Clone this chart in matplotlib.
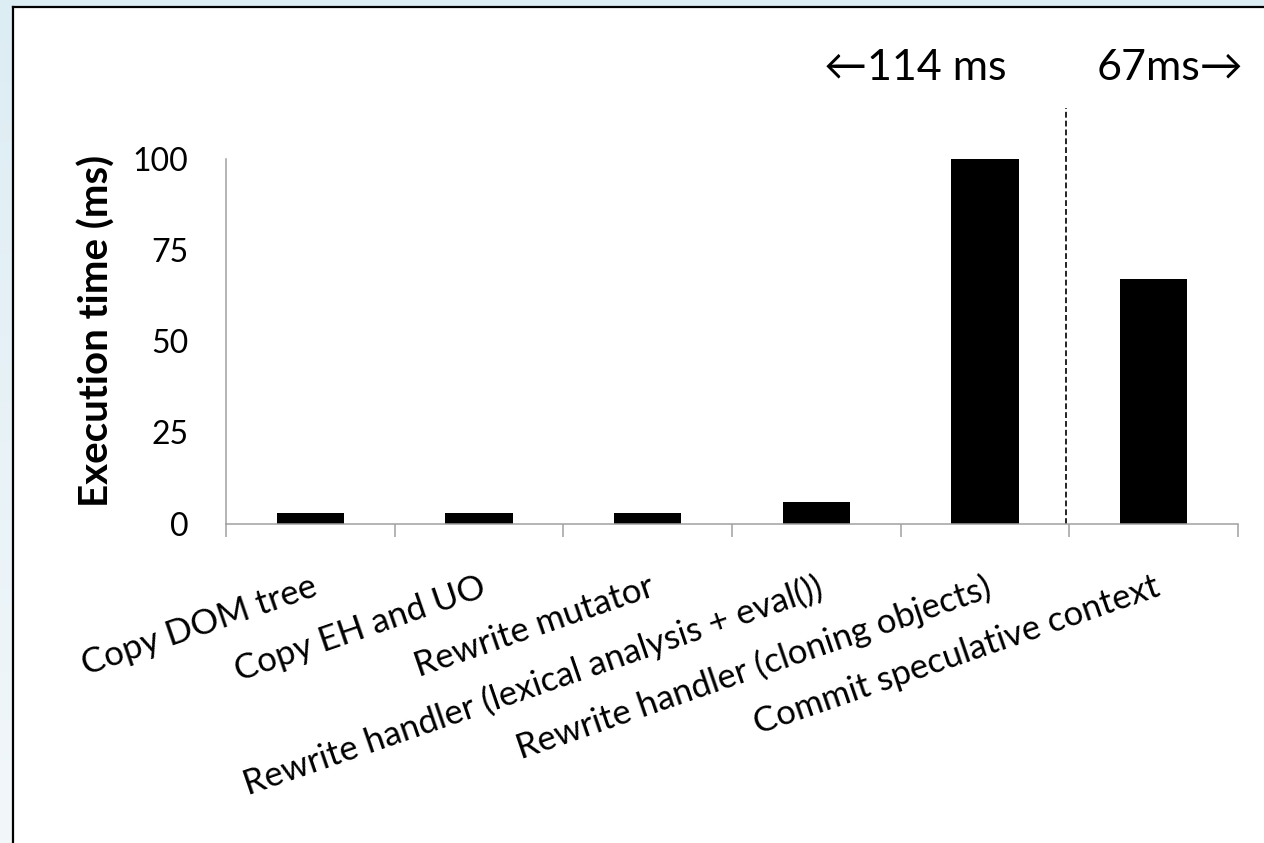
import numpy as np
import matplotlib
matplotlib.use("Agg")
import matplotlib.pyplot as plt
from matplotlib.colors import LinearSegmentedColormap
from matplotlib.patches import Rectangle
from matplotlib.lines import Line2D

# Data
categories = [
    "Copy DOM tree",
    "Copy EH and UO",
    "Rewrite mutator",
    "Rewrite handler (lexical analysis + eval())",
    "Rewrite handler (cloning objects)",
    "Commit speculative context",
]
exec_ms = [2.8, 2.8, 2.8, 6, 114, 67]
y_ticks = [0, 25, 50, 75, 100]
left_note = "\u2190114 ms"
right_note = "67ms\u2192"

W, H = 1264, 843
DPI = 100
FONT = ["Lato", "DejaVu Sans"]
plt.rcParams["font.family"] = FONT

fig = plt.figure(figsize=(W / DPI, H / DPI), dpi=DPI)

# Page background: pale blue gradient with a white framed panel
bg = fig.add_axes([0, 0, 1, 1], zorder=-10)
bg.set_axis_off()
grad = np.linspace(0, 1, 256).reshape(-1, 1)
cmap = LinearSegmentedColormap.from_list("pale", ["#ddedf4", "#f2f7fa"])
bg.imshow(grad, aspect="auto", cmap=cmap, extent=[0, 1, 0, 1], origin="upper")
px_x, px_y = 13 / W, 1 - 7 / H
bg.add_patch(Rectangle((px_x, 0), 1 - px_x, px_y, transform=bg.transAxes,
                       facecolor="white", edgecolor="none"))
bg.add_line(Line2D([px_x, px_x], [0, px_y], transform=bg.transAxes,
                   color="black", lw=1.6))
bg.add_line(Line2D([px_x, 1], [px_y, px_y], transform=bg.transAxes,
                   color="black", lw=1.6))
bg.set_xlim(0, 1)
bg.set_ylim(0, 1)

# Main chart
ax = fig.add_axes([226 / W, 1 - 523.5 / H, (1238 - 226) / W, (523.5 - 159) / H])
ax.patch.set_alpha(0)
x = np.arange(len(categories))
ax.bar(x, exec_ms, width=0.4, color="black")

ax.set_xlim(-0.5, len(categories) - 0.5)
ax.set_ylim(0, 100)
ax.set_yticks(y_ticks)
ax.tick_params(axis="y", length=0, pad=27, labelsize=23)

ax.set_xticks(x)
ax.set_xticklabels(categories, rotation=19, ha="right", va="top",
                   rotation_mode="anchor", fontsize=25)
ax.tick_params(axis="x", which="major", length=0, pad=34)
ax.set_xticks(np.arange(-0.5, len(categories)), minor=True)
ax.tick_params(axis="x", which="minor", length=9, width=1.1, color="#a0a0a0",
               direction="out")

for side in ("top", "right"):
    ax.spines[side].set_visible(False)
for side in ("left", "bottom"):
    ax.spines[side].set_color("#a0a0a0")
    ax.spines[side].set_linewidth(1.1)

ax.set_ylabel("Execution time (ms)", fontsize=29, fontweight="bold")
ax.yaxis.set_label_coords(-0.109, 0.528)

# Split marker between the clipped bar and the last bar
ax.plot([4.48, 4.48], [0, 114], color="black", lw=1.2, ls=(0, (3.5, 1.8)),
        clip_on=False)
ax.text(4.13, 121.7, left_note, ha="right", va="baseline", fontsize=31)
ax.text(4.66, 121.7, right_note, ha="left", va="baseline", fontsize=31)

fig.savefig("out.png", dpi=DPI)
